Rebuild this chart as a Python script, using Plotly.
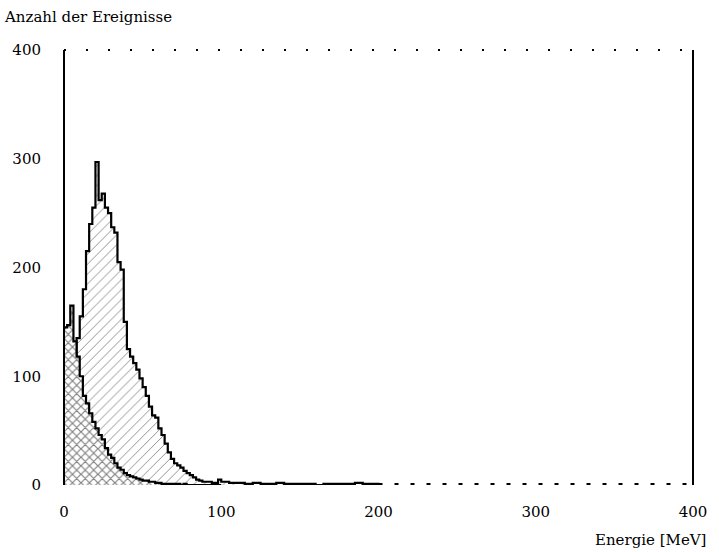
import plotly.graph_objects as go

# 2 MeV bins from 0 to 100 MeV
edges_fine = list(range(0, 102, 2))
# outer (diagonally hatched) spectrum, counts per bin
outer_counts = [8, 25, 55, 95, 135, 155, 180, 215, 240, 255,
                297, 262, 268, 255, 250, 237, 232, 205, 198, 150,
                125, 118, 112, 106, 98, 90, 82, 72, 64, 62,
                52, 46, 38, 30, 24, 20, 18, 16, 13, 11,
                9, 7, 5, 4, 3, 3, 3, 2, 2, 5]
# inner (cross hatched) spectrum, counts per bin
inner_counts = [145, 147, 165, 132, 118, 100, 82, 75, 66, 58,
                52, 46, 42, 34, 28, 25, 20, 16, 14, 11,
                9, 8, 7, 6, 5, 4, 4, 3, 3, 2,
                2, 1, 1, 1, 1, 1, 1, 0, 1, 0,
                0, 0, 0, 0, 0, 0, 0, 0, 0, 0]
# tail of outer spectrum, 5 MeV bins from 100 to 200 MeV
edges_tail = list(range(100, 205, 5))
tail_counts = [3, 2, 2, 1, 2, 1, 1, 2, 1, 1, 1, 1, 0, 1, 1, 1, 1, 2, 1, 1]

x_ticks = [0, 100, 200, 300, 400]
y_ticks = [0, 100, 200, 300, 400]

x_outer = edges_fine[:-1] + edges_tail
y_outer = outer_counts + tail_counts + [0]
x_outer = x_outer + [edges_tail[-1]]

x_inner = edges_fine
y_inner = inner_counts + [0]

fig = go.Figure()
fig.add_trace(go.Scatter(
    x=x_outer, y=y_outer, mode="lines", line_shape="hv",
    line=dict(color="black", width=2.2),
    fill="tozeroy", fillcolor="rgba(255,255,255,0)",
    fillpattern=dict(shape="/", fgcolor="black", bgcolor="white", size=7, solidity=0.12),
    showlegend=False, hoverinfo="skip"))
fig.add_trace(go.Scatter(
    x=x_inner, y=y_inner, mode="lines", line_shape="hv",
    line=dict(color="black", width=2.2),
    fill="tozeroy", fillcolor="rgba(255,255,255,0)",
    fillpattern=dict(shape="x", fgcolor="black", bgcolor="white", size=6, solidity=0.35),
    showlegend=False, hoverinfo="skip"))

font = dict(family="DejaVu Serif", size=15, color="black")

fig.update_layout(
    width=719, height=552,
    margin=dict(l=62, r=18, t=50, b=67),
    paper_bgcolor="white", plot_bgcolor="white",
    font=font,
    xaxis=dict(range=[0, 400], tickvals=x_ticks, ticktext=[str(v) for v in x_ticks],
               showgrid=False, zeroline=False, showline=False,
               ticks="", ticklabelstandoff=16, tickfont=font),
    yaxis=dict(range=[0, 400], tickvals=y_ticks, ticktext=[str(v) for v in y_ticks],
               showgrid=False, zeroline=False, showline=False,
               ticks="", ticklabelstandoff=22, tickfont=font),
    shapes=[
        dict(type="line", xref="paper", yref="paper", x0=0, x1=0, y0=0, y1=1,
             line=dict(color="black", width=2)),
        dict(type="line", xref="paper", yref="paper", x0=1, x1=1, y0=0, y1=1,
             line=dict(color="black", width=2)),
        dict(type="line", xref="paper", yref="paper", x0=0, x1=1, y0=1, y1=1,
             line=dict(color="black", width=2, dash="2px,20px")),
        dict(type="line", xref="x", yref="y", x0=200, x1=400, y0=1, y1=1,
             line=dict(color="black", width=2, dash="4px,12px")),
    ],
    annotations=[
        dict(text="Anzahl der Ereignisse", xref="paper", yref="paper",
             x=-63/639, y=1 + 33/435, xanchor="left", yanchor="middle",
             showarrow=False, font=font),
        dict(text="Energie [MeV]", xref="paper", yref="paper",
             x=1 + 15/639, y=-55/435, xanchor="right", yanchor="middle",
             showarrow=False, font=font),
    ],
)

fig.write_html("out.html")
